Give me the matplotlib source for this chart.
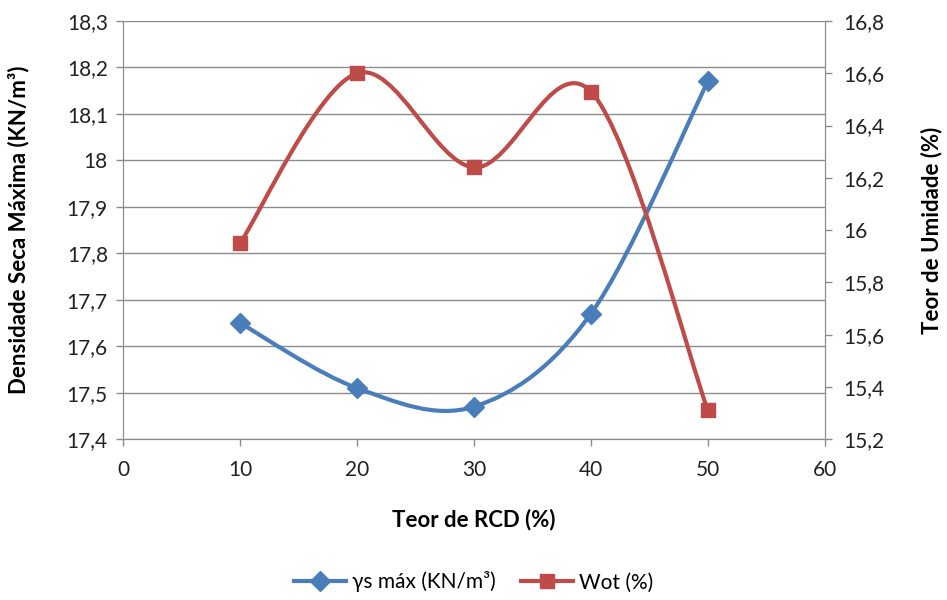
import numpy as np
import matplotlib
matplotlib.use('Agg')
import matplotlib.pyplot as plt
from matplotlib.path import Path
from matplotlib.patches import PathPatch
from matplotlib.lines import Line2D
from matplotlib.ticker import FuncFormatter, MultipleLocator

plt.rcParams['font.family'] = ['Lato', 'DejaVu Sans']

teor_rcd = [10, 20, 30, 40, 50]
gama_s = [17.65, 17.51, 17.47, 17.67, 18.17]
wot = [15.95, 16.60, 16.24, 16.53, 15.31]

blue = '#4A7EBB'
red = '#BE4B48'
grid_c = '#8C8C8C'


def smooth_path(x, y):
    # Excel-style smoothed line: cubic bezier segments through the points
    pts = np.column_stack([x, y]).astype(float)
    n = len(pts)
    verts = [pts[0]]
    codes = [Path.MOVETO]
    for i in range(n - 1):
        p0 = pts[i - 1] if i > 0 else pts[i]
        p1 = pts[i]
        p2 = pts[i + 1]
        p3 = pts[i + 2] if i + 2 < n else pts[i + 1]
        c1 = p1 + (p2 - p0) / 6.0
        c2 = p2 - (p3 - p1) / 6.0
        verts += [c1, c2, p2]
        codes += [Path.CURVE4] * 3
    return Path(verts, codes)


def comma(v, pos):
    return f'{v:g}'.replace('.', ',')


fig = plt.figure(figsize=(9.47, 6.0), dpi=100)
ax = fig.add_axes([0.130, 0.268, 0.741, 0.697])
ax2 = ax.twinx()

ax.set_xlim(0, 60)
ax.set_ylim(17.4, 18.3)
ax2.set_ylim(15.2, 16.8)
ax.xaxis.set_major_locator(MultipleLocator(10))
ax.yaxis.set_major_locator(MultipleLocator(0.1))
ax2.yaxis.set_major_locator(MultipleLocator(0.2))
ax.yaxis.set_major_formatter(FuncFormatter(comma))
ax2.yaxis.set_major_formatter(FuncFormatter(comma))

ax.grid(axis='y', color=grid_c, lw=1.0)
ax.set_axisbelow(True)
for a in (ax, ax2):
    a.spines['top'].set_visible(False)
    for s in ('left', 'right', 'bottom'):
        a.spines[s].set_color(grid_c)
    a.tick_params(colors=grid_c, labelcolor='#222222', labelsize=15,
                  length=5, width=1)
ax.tick_params(axis='x', pad=10)
ax.tick_params(axis='y', pad=6)
ax2.tick_params(axis='y', pad=8)

ax.add_patch(PathPatch(smooth_path(teor_rcd, gama_s), fill=False,
                       edgecolor=blue, lw=3, capstyle='round', zorder=3))
ax.plot(teor_rcd, gama_s, ls='none', marker='D', ms=10, color=blue,
        mec=blue, zorder=4)
ax2.add_patch(PathPatch(smooth_path(teor_rcd, wot), fill=False,
                        edgecolor=red, lw=3, capstyle='round', zorder=3))
ax2.plot(teor_rcd, wot, ls='none', marker='s', ms=10, color=red,
         mec=red, zorder=4)

ax.set_xlabel('Teor de RCD (%)', fontsize=16, fontweight='bold')
ax.xaxis.set_label_coords(0.5, -0.165)
ax.set_ylabel('Densidade Seca Máxima (KN/m³)', fontsize=16,
              fontweight='bold')
ax.yaxis.set_label_coords(-0.134, 0.5)
ax2.set_ylabel('Teor de Umidade (%)', fontsize=16, fontweight='bold')
ax2.yaxis.set_label_coords(1.136, 0.5)

handles = [
    Line2D([], [], color=blue, lw=3, marker='D', ms=10),
    Line2D([], [], color=red, lw=3, marker='s', ms=10),
]
fig.legend(handles, ['γs máx (KN/m³)', 'Wot (%)'], loc='center',
           bbox_to_anchor=(0.5, 1 - 582 / 600), ncol=2, frameon=False,
           fontsize=15, handlelength=2.5, columnspacing=1.2,
           handletextpad=0.3)

fig.savefig('out.png', dpi=100)
